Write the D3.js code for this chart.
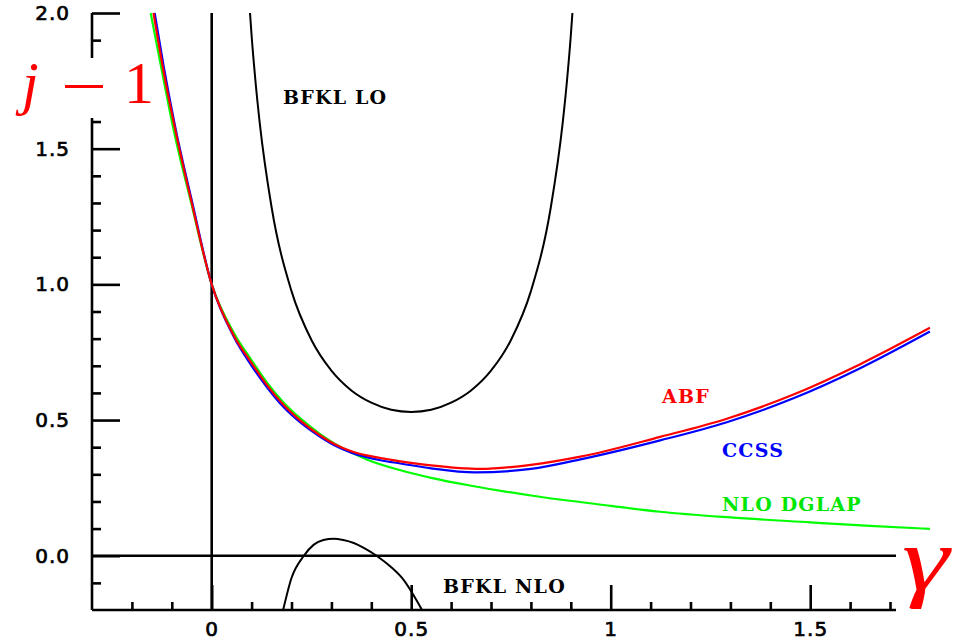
<!DOCTYPE html>
<html>
<head>
<meta charset="utf-8">
<script src="https://cdn.jsdelivr.net/npm/d3@7"></script>
<style>
  body { margin: 0; background: #fff; }
  svg { display: block; }
</style>
</head>
<body>
<div id="chart"></div>
<script>
// values (gamma, j-1)
const bfklLoGamma = [0.096, 0.1, 0.11, 0.12, 0.15, 0.2, 0.25, 0.3, 0.35, 0.4, 0.45, 0.5,
  0.55, 0.6, 0.65, 0.7, 0.75, 0.8, 0.85, 0.88, 0.89, 0.9, 0.904];
const bfklLoValue = [2.0, 1.917, 1.744, 1.6, 1.285, 0.975, 0.795, 0.682, 0.609, 0.564, 0.538, 0.53,
  0.538, 0.564, 0.609, 0.682, 0.795, 0.975, 1.285, 1.6, 1.744, 1.917, 2.0];

const bfklNloGamma = [0.179, 0.2, 0.231, 0.256, 0.28, 0.306, 0.33, 0.356, 0.38, 0.413, 0.448, 0.477, 0.527];
const bfklNloValue = [-0.2, -0.082, 0.0, 0.041, 0.058, 0.063, 0.058, 0.047, 0.03, 0.0, -0.04, -0.082, -0.2];

const dglapGamma = [-0.153, -0.12, -0.094, -0.053, 0, 0.056, 0.1, 0.139, 0.18, 0.223, 0.27, 0.306, 0.35,
  0.39, 0.473, 0.55, 0.65, 0.8, 1.0, 1.124, 1.3, 1.5, 1.65, 1.8];
const dglapValue = [2.0, 1.75, 1.56, 1.31, 1.0, 0.82, 0.72, 0.637, 0.565, 0.505, 0.45, 0.415, 0.38,
  0.354, 0.315, 0.287, 0.258, 0.222, 0.184, 0.162, 0.141, 0.123, 0.11, 0.099];

const abfGamma = [-0.146, -0.12, -0.09, -0.05, 0, 0.056, 0.1, 0.139, 0.18, 0.223, 0.27, 0.306, 0.35,
  0.423, 0.473, 0.55, 0.673, 0.8, 0.924, 1.124, 1.291, 1.458, 1.624, 1.8];
const abfValue = [2.0, 1.78, 1.56, 1.3, 1.0, 0.81, 0.71, 0.628, 0.556, 0.497, 0.445, 0.413, 0.385,
  0.36, 0.348, 0.333, 0.32, 0.335, 0.365, 0.438, 0.505, 0.594, 0.705, 0.84];

const ccssGamma = [-0.143, -0.12, -0.09, -0.05, 0, 0.056, 0.1, 0.139, 0.18, 0.223, 0.27, 0.306, 0.35,
  0.423, 0.473, 0.55, 0.66, 0.8, 0.924, 1.124, 1.291, 1.458, 1.624, 1.8];
const ccssValue = [2.0, 1.8, 1.57, 1.31, 1.0, 0.805, 0.7, 0.62, 0.548, 0.49, 0.44, 0.408, 0.38,
  0.352, 0.34, 0.322, 0.307, 0.32, 0.355, 0.425, 0.492, 0.58, 0.69, 0.826];

const xMajorTicks = [0, 0.5, 1, 1.5];
const xMinorTicks = [-0.2, -0.1, 0.1, 0.2, 0.3, 0.4, 0.6, 0.7, 0.8, 0.9, 1.1, 1.2, 1.3, 1.4, 1.6, 1.7];
const yMajorTicks = [0, 0.5, 1.0, 1.5, 2.0];
const yMinorTicks = [-0.1, 0.1, 0.2, 0.3, 0.4, 0.6, 0.7, 0.8, 0.9, 1.1, 1.2, 1.3, 1.4, 1.6, 1.7, 1.8, 1.9];

const width = 961, height = 642;

const svg = d3.select("#chart").append("svg")
  .attr("width", width)
  .attr("height", height);

const x = d3.scaleLinear().domain([-0.3, 1.715]).range([92, 896]);
const y = d3.scaleLinear().domain([-0.2, 2.0]).range([610, 13]);

const axisW = 2.6;

// minor ticks
svg.append("g")
  .attr("transform", `translate(${x(-0.3)},0)`)
  .call(d3.axisLeft(y).tickValues(yMinorTicks).tickSizeInner(-9).tickSizeOuter(0).tickFormat(""))
  .call(g => g.select(".domain").remove())
  .selectAll("line").attr("stroke", "#000").attr("stroke-width", axisW);

svg.append("g")
  .attr("transform", `translate(0,${y(-0.2)})`)
  .call(d3.axisBottom(x).tickValues(xMinorTicks).tickSizeInner(-8).tickSizeOuter(0).tickFormat(""))
  .call(g => g.select(".domain").remove())
  .selectAll("line").attr("stroke", "#000").attr("stroke-width", axisW);

// major ticks with labels
const yAxis = svg.append("g")
  .attr("transform", `translate(${x(-0.3)},0)`)
  .call(d3.axisLeft(y).tickValues(yMajorTicks).tickSizeInner(-28).tickSizeOuter(0)
    .tickPadding(22).tickFormat(d3.format(".1f")));
yAxis.select(".domain").remove();
yAxis.selectAll("line").attr("stroke", "#000").attr("stroke-width", axisW);
yAxis.selectAll("text")
  .attr("fill", "#000")
  .style("font-family", "'DejaVu Sans', sans-serif")
  .style("font-size", "20px")
  .style("letter-spacing", "1px")
  .attr("stroke", "#000").attr("stroke-width", 0.7);

const xAxis = svg.append("g")
  .attr("transform", `translate(0,${y(-0.2)})`)
  .call(d3.axisBottom(x).tickValues(xMajorTicks).tickSizeInner(-25).tickSizeOuter(0)
    .tickPadding(12).tickFormat(d => d));
xAxis.select(".domain").remove();
xAxis.selectAll("line").attr("stroke", "#000").attr("stroke-width", axisW);
xAxis.selectAll("text")
  .attr("fill", "#000")
  .style("font-family", "'DejaVu Sans', sans-serif")
  .style("font-size", "20px")
  .style("letter-spacing", "1px")
  .attr("stroke", "#000").attr("stroke-width", 0.7);

// frame lines: left axis, bottom axis, gamma = 0, j-1 = 0
const frame = svg.append("g").attr("stroke", "#000").attr("stroke-width", axisW);
frame.append("line").attr("x1", x(-0.3)).attr("x2", x(-0.3)).attr("y1", y(2.0)).attr("y2", y(-0.2));
frame.append("line").attr("x1", x(-0.3)).attr("x2", x(1.715)).attr("y1", y(-0.2)).attr("y2", y(-0.2));
frame.append("line").attr("x1", x(0)).attr("x2", x(0)).attr("y1", y(2.0)).attr("y2", y(-0.2));
frame.append("line").attr("x1", x(-0.3)).attr("x2", x(1.715)).attr("y1", y(0)).attr("y2", y(0));

const line = d3.line()
  .x(d => x(d[0]))
  .y(d => y(d[1]))
  .curve(d3.curveMonotoneX);

const series = [
  { g: bfklLoGamma, v: bfklLoValue, color: "#000", w: 2 },
  { g: bfklNloGamma, v: bfklNloValue, color: "#000", w: 2 },
  { g: dglapGamma, v: dglapValue, color: "#00ff00", w: 2.2 },
  { g: ccssGamma, v: ccssValue, color: "#0000ff", w: 2.2 },
  { g: abfGamma, v: abfValue, color: "#ff0000", w: 2.2 }
];

svg.selectAll(".curve")
  .data(series)
  .enter()
  .append("path")
  .attr("class", "curve")
  .attr("fill", "none")
  .attr("stroke", d => d.color)
  .attr("stroke-width", d => d.w)
  .attr("d", d => line(d.g.map((gv, i) => [gv, d.v[i]])));

// curve labels
const labels = [
  { text: "BFKL LO", x: 283, y: 104, color: "#000" },
  { text: "BFKL NLO", x: 443, y: 593, color: "#000" },
  { text: "ABF", x: 662, y: 403, color: "#ff0000" },
  { text: "CCSS", x: 722, y: 457, color: "#0000ff" },
  { text: "NLO DGLAP", x: 722, y: 511, color: "#00e600" }
];

svg.selectAll(".lbl")
  .data(labels)
  .enter()
  .append("text")
  .attr("class", "lbl")
  .attr("x", d => d.x)
  .attr("y", d => d.y)
  .attr("fill", d => d.color)
  .style("font-family", "'DejaVu Serif', serif")
  .style("font-weight", "bold")
  .style("font-size", "19px")
  .style("letter-spacing", "1.2px")
  .text(d => d.text);

// axis titles
const yTitle = svg.append("g");
yTitle.append("rect")
  .attr("x", 80).attr("y", 58).attr("width", 30).attr("height", 60)
  .attr("fill", "#fff");
yTitle.append("text")
  .attr("x", 22).attr("y", 103)
  .attr("fill", "#ff0000")
  .style("font-family", "'Liberation Serif', serif")
  .style("font-style", "italic")
  .style("font-size", "60px")
  .text("j");
yTitle.append("rect")
  .attr("x", 65).attr("y", 85).attr("width", 38).attr("height", 3)
  .attr("fill", "#ff0000");
yTitle.append("text")
  .attr("x", 124).attr("y", 103)
  .attr("fill", "#ff0000")
  .style("font-family", "'Liberation Serif', serif")
  .style("font-size", "60px")
  .text("1");

svg.append("text")
  .attr("transform", "translate(902,590) scale(1.3,1)")
  .attr("fill", "#ff0000")
  .style("font-family", "'Liberation Serif', serif")
  .style("font-style", "italic")
  .style("font-size", "92px")
  .text("\u03b3");
</script>
</body>
</html>
